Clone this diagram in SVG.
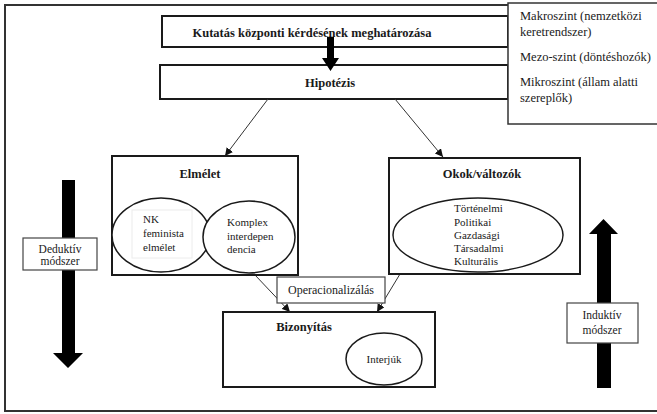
<svg xmlns="http://www.w3.org/2000/svg" width="657" height="414" viewBox="0 0 657 414">
<style>
text{font-family:"Liberation Serif","Times New Roman",serif;fill:#1a1a1a}
.b{font-weight:bold}
.box{fill:#fff;stroke:#1a1a1a;stroke-width:2}
.thin{fill:#fff;stroke:#444;stroke-width:1.2}
.ell{fill:#fff;stroke:#1a1a1a;stroke-width:1.5}
.ln{stroke:#333;stroke-width:1;fill:none}
</style>
<defs>
<marker id="ah" viewBox="0 0 10 10" refX="10" refY="5" markerWidth="8" markerHeight="8" markerUnits="userSpaceOnUse" orient="auto">
<path d="M0,0 L10,5 L0,10 z" fill="#111"/>
</marker>
</defs>
<rect x="5" y="5" width="660" height="406" fill="#fff" stroke="#333" stroke-width="2"/>

<g id="kutatas">
<rect class="box" x="162" y="16" width="346" height="31"/>
<text class="b" x="312" y="37" font-size="12.5" text-anchor="middle">Kutatás központi kérdésének meghatározása</text>
</g>
<g id="hipotezis">
<rect class="box" x="160" y="65" width="348" height="34"/>
<text class="b" x="330" y="87" font-size="12.5" text-anchor="middle">Hipotézis</text>
</g>
<g id="szintek">
<rect x="508" y="3" width="152" height="121" fill="#fff" stroke="#333" stroke-width="1.5"/>
<text x="520" y="20" font-size="12.5">Makroszint (nemzetközi</text>
<text x="520" y="36" font-size="12.5">keretrendszer)</text>
<text x="520" y="61" font-size="12.5">Mezo-szint (döntéshozók)</text>
<text x="520" y="86" font-size="12.5">Mikroszint (állam alatti</text>
<text x="520" y="102" font-size="12.5">szereplők)</text>
</g>

<g id="connectors">
<path d="M327,37 H334 V58 H339 L330.5,71 L322,58 H327 Z" fill="#000"/>
<line class="ln" x1="268" y1="99" x2="225" y2="156" marker-end="url(#ah)"/>
<line class="ln" x1="395" y1="99" x2="443" y2="157" marker-end="url(#ah)"/>
<line class="ln" x1="255" y1="275" x2="290" y2="312" marker-end="url(#ah)"/>
<line class="ln" x1="400" y1="274" x2="377" y2="312" marker-end="url(#ah)"/>
</g>

<g id="elmelet">
<rect class="box" x="112" y="156" width="186" height="119"/>
<text class="b" x="200" y="178" font-size="12.5" text-anchor="middle">Elmélet</text>
<ellipse class="ell" cx="161" cy="235" rx="49" ry="37"/>
<rect x="132" y="210" width="60" height="48" fill="none" stroke="#ececec" stroke-width="1"/>
<ellipse class="ell" cx="249" cy="237" rx="46" ry="36"/>
<text x="143" y="223" font-size="11">NK</text>
<text x="143" y="237" font-size="11">feminista</text>
<text x="143" y="251" font-size="11">elmélet</text>
<text x="227" y="226" font-size="11">Komplex</text>
<text x="227" y="240" font-size="11">interdepen</text>
<text x="227" y="253" font-size="11">dencia</text>
</g>

<g id="okok">
<rect class="box" x="389" y="158" width="191" height="116"/>
<text class="b" x="482" y="178" font-size="12.5" text-anchor="middle">Okok/változók</text>
<ellipse class="ell" cx="478" cy="235" rx="85" ry="37"/>
<text x="454" y="212" font-size="11">Történelmi</text>
<text x="454" y="226" font-size="11">Politikai</text>
<text x="454" y="239" font-size="11">Gazdasági</text>
<text x="454" y="252" font-size="11">Társadalmi</text>
<text x="454" y="265" font-size="11">Kulturális</text>
</g>

<g id="operacionalizalas">
<rect class="thin" x="277" y="277" width="108" height="26"/>
<text x="331" y="294" font-size="12" text-anchor="middle">Operacionalizálás</text>
</g>

<g id="bizonyitas">
<rect class="box" x="223" y="312" width="212" height="75"/>
<text class="b" x="304" y="331" font-size="12.5" text-anchor="middle">Bizonyítás</text>
<ellipse class="ell" cx="384" cy="359" rx="38" ry="26"/>
<text x="384" y="363" font-size="11" text-anchor="middle">Interjúk</text>
</g>

<g id="deduktiv">
<path d="M62,180 H75 V353 H83 L68,368 L53,353 H62 Z" fill="#000"/>
<rect class="thin" x="23" y="238" width="74" height="32"/>
<text x="60" y="253" font-size="11.5" text-anchor="middle">Deduktív</text>
<text x="60" y="265" font-size="11.5" text-anchor="middle">módszer</text>
</g>

<g id="induktiv">
<path d="M597,388 V234 H589 L603.5,219 L618,234 H611 V388 Z" fill="#000"/>
<rect class="thin" x="567" y="303" width="71" height="40"/>
<text x="602" y="319" font-size="11.5" text-anchor="middle">Induktív</text>
<text x="602" y="334" font-size="11.5" text-anchor="middle">módszer</text>
</g>
</svg>
